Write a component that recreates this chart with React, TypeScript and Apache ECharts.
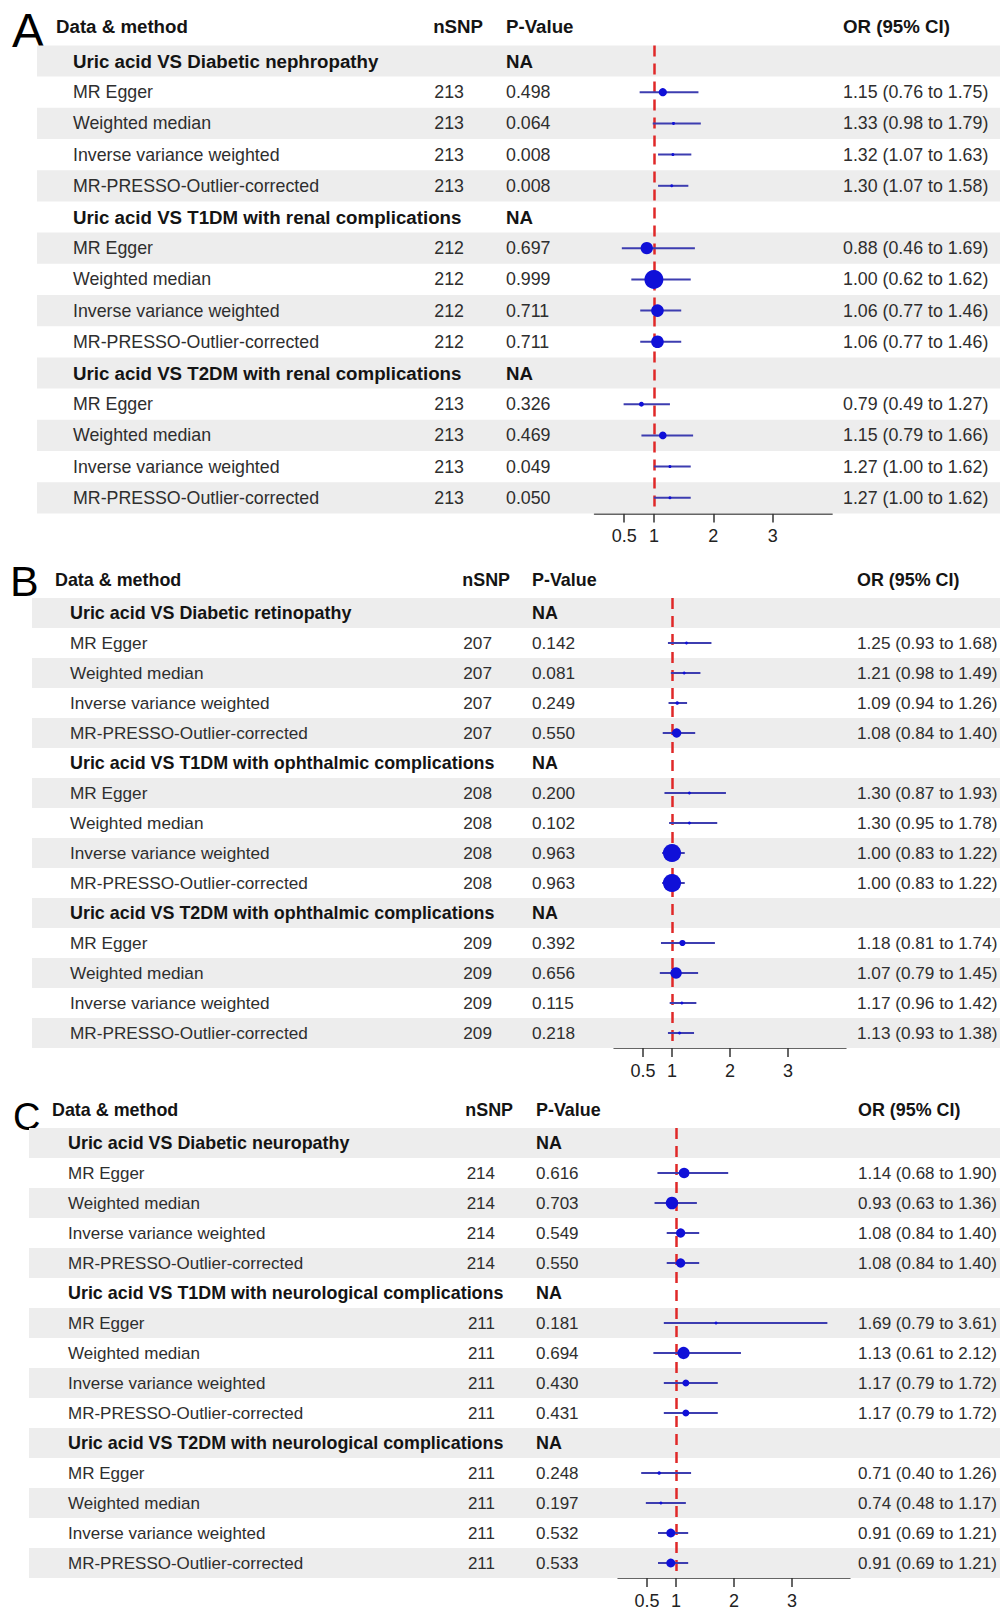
import React, { useEffect, useRef } from "react";
import * as echarts from "echarts";

const FONT = '"Liberation Sans", Arial, Helvetica, sans-serif';

const METHODS = ["MR Egger", "Weighted median", "Inverse variance weighted", "MR-PRESSO-Outlier-corrected"];
const HEADERS = ["Data & method", "nSNP", "P-Value", "OR (95% CI)"];
const TICKS = [0.5, 1, 2, 3];

// Panel A
const groupsA = [
  "Uric acid VS Diabetic nephropathy",
  "Uric acid VS T1DM with renal complications",
  "Uric acid VS T2DM with renal complications",
];
const nsnpA = [213, 212, 213];
const pA = [0.498, 0.064, 0.008, 0.008, 0.697, 0.999, 0.711, 0.711, 0.326, 0.469, 0.049, 0.05];
const orA = [1.15, 1.33, 1.32, 1.3, 0.88, 1.0, 1.06, 1.06, 0.79, 1.15, 1.27, 1.27];
const loA = [0.76, 0.98, 1.07, 1.07, 0.46, 0.62, 0.77, 0.77, 0.49, 0.79, 1.0, 1.0];
const hiA = [1.75, 1.79, 1.63, 1.58, 1.69, 1.62, 1.46, 1.46, 1.27, 1.66, 1.62, 1.62];

// Panel B
const groupsB = [
  "Uric acid VS Diabetic retinopathy",
  "Uric acid VS T1DM with ophthalmic complications",
  "Uric acid VS T2DM with ophthalmic complications",
];
const nsnpB = [207, 208, 209];
const pB = [0.142, 0.081, 0.249, 0.55, 0.2, 0.102, 0.963, 0.963, 0.392, 0.656, 0.115, 0.218];
const orB = [1.25, 1.21, 1.09, 1.08, 1.3, 1.3, 1.0, 1.0, 1.18, 1.07, 1.17, 1.13];
const loB = [0.93, 0.98, 0.94, 0.84, 0.87, 0.95, 0.83, 0.83, 0.81, 0.79, 0.96, 0.93];
const hiB = [1.68, 1.49, 1.26, 1.4, 1.93, 1.78, 1.22, 1.22, 1.74, 1.45, 1.42, 1.38];

// Panel C
const groupsC = [
  "Uric acid VS Diabetic neuropathy",
  "Uric acid VS T1DM with neurological complications",
  "Uric acid VS T2DM with neurological complications",
];
const nsnpC = [214, 211, 211];
const pC = [0.616, 0.703, 0.549, 0.55, 0.181, 0.694, 0.43, 0.431, 0.248, 0.197, 0.532, 0.533];
const orC = [1.14, 0.93, 1.08, 1.08, 1.69, 1.13, 1.17, 1.17, 0.71, 0.74, 0.91, 0.91];
const loC = [0.68, 0.63, 0.84, 0.84, 0.79, 0.61, 0.79, 0.79, 0.4, 0.48, 0.69, 0.69];
const hiC = [1.9, 1.36, 1.4, 1.4, 3.61, 2.12, 1.72, 1.72, 1.26, 1.17, 1.21, 1.21];

type Row = {
  kind: "group" | "method";
  label: string;
  nsnp?: number;
  p?: number;
  or?: number;
  lo?: number;
  hi?: number;
};

function buildRows(groups: string[], nsnp: number[], p: number[], or: number[], lo: number[], hi: number[]): Row[] {
  const rows: Row[] = [];
  groups.forEach((g, gi) => {
    rows.push({ kind: "group", label: g });
    METHODS.forEach((m, mi) => {
      const k = gi * 4 + mi;
      rows.push({ kind: "method", label: m, nsnp: nsnp[gi], p: p[k], or: or[k], lo: lo[k], hi: hi[k] });
    });
  });
  return rows;
}

const PANELS = [
  buildRows(groupsA, nsnpA, pA, orA, loA, hiA),
  buildRows(groupsB, nsnpB, pB, orB, loB, hiB),
  buildRows(groupsC, nsnpC, pC, orC, loC, hiC),
];

// layout (positions / sizes / styles)
const LAYOUTS = [
  { letter: "A", letterX: 12, letterY: 30, letterSize: 48, top: 45.4, rowH: 31.2, hdrGap: 35, axisLeft: 594.5, axisWidth: 237.6, bandLeft: 37, hdrX: 56, nameX: 73, nsnpHdrR: 483, nsnpR: 464, pX: 506, orX: 843, fs: 17.8, bfs: 18.7 },
  { letter: "B", letterX: 10, letterY: 581, letterSize: 43, top: 598, rowH: 30, hdrGap: 33, axisLeft: 614, axisWidth: 232, bandLeft: 32, hdrX: 55, nameX: 70, nsnpHdrR: 510, nsnpR: 492, pX: 532, orX: 857, fs: 17.2, bfs: 17.9 },
  { letter: "C", letterX: 13, letterY: 1117, letterSize: 38, top: 1128, rowH: 30, hdrGap: 33, axisLeft: 618, axisWidth: 232, bandLeft: 29, hdrX: 52, nameX: 68, nsnpHdrR: 513, nsnpR: 495, pX: 536, orX: 858, fs: 17, bfs: 17.9 },
];

const BAND = "#ededed";
const TXT = "#2e2e2e";
const BOLD = "#141414";
const CI = "#3d3db0";
const DOT = "#1010d8";
const RED = "#e02828";

function fmt2(v: number) {
  return v.toFixed(2);
}

function buildOption() {
  const grid: any[] = [];
  const xAxis: any[] = [];
  const yAxis: any[] = [];
  const series: any[] = [];
  const graphic: any[] = [];

  PANELS.forEach((rows, k) => {
    const L = LAYOUTS[k];
    const ids = rows.map((_, i) => String(i));
    const h = L.rowH * rows.length;
    const tg = 2 * k;
    const fg = 2 * k + 1;

    grid.push({ left: 0, width: 1000, top: L.top, height: h });
    grid.push({ left: L.axisLeft, width: L.axisWidth, top: L.top, height: h });

    xAxis.push({ gridIndex: tg, type: "value", min: 0, max: 1000, show: false });
    yAxis.push({ gridIndex: tg, type: "category", inverse: true, data: ids, show: false });

    xAxis.push({
      gridIndex: fg,
      type: "value",
      min: 0,
      max: 4,
      position: "bottom",
      splitLine: { show: false },
      axisLine: { show: true, onZero: false, lineStyle: { color: "#333", width: 1.5 } },
      axisTick: { show: true, customValues: TICKS, length: 9, lineStyle: { color: "#333", width: 1.5 } },
      axisLabel: {
        show: true,
        customValues: TICKS,
        fontSize: 18,
        fontFamily: FONT,
        color: "#222",
        margin: 14,
        formatter: (v: number) => String(v),
      },
    });
    yAxis.push({ gridIndex: fg, type: "category", inverse: true, data: ids, show: false });

    graphic.push({
      type: "text",
      x: L.letterX,
      y: L.letterY,
      style: {
        text: L.letter,
        fontSize: L.letterSize,
        fontFamily: FONT,
        fontWeight: "normal",
        fill: "#000",
        align: "left",
        verticalAlign: "middle",
      },
    });

    // table (bands + texts)
    series.push({
      type: "custom",
      xAxisIndex: tg,
      yAxisIndex: tg,
      z: 1,
      silent: true,
      clip: false,
      encode: { x: 0, y: 1 },
      data: rows.map((_, i) => [0, i]),
      renderItem: (params: any, api: any) => {
        const i = params.dataIndex;
        const r = rows[i];
        const y = api.coord([0, i])[1];
        const rh = api.size([0, 1])[1];
        const children: any[] = [];
        const txt = (x: number, yy: number, text: string, bold: boolean, align = "left") => ({
          type: "text",
          x,
          y: yy,
          style: {
            text,
            fill: bold ? BOLD : TXT,
            fontSize: bold ? L.bfs : L.fs,
            fontFamily: FONT,
            fontWeight: bold ? "bold" : "normal",
            align,
            verticalAlign: "middle",
          },
        });
        if (i % 2 === 0) {
          children.push({
            type: "rect",
            shape: { x: L.bandLeft, y: y - rh / 2, width: 1000 - L.bandLeft, height: rh },
            style: { fill: BAND },
          });
        }
        if (i === 0) {
          const hy = y - L.hdrGap;
          children.push(txt(L.hdrX, hy, HEADERS[0], true));
          children.push(txt(L.nsnpHdrR, hy, HEADERS[1], true, "right"));
          children.push(txt(L.pX, hy, HEADERS[2], true));
          children.push(txt(L.orX, hy, HEADERS[3], true));
        }
        if (r.kind === "group") {
          children.push(txt(L.nameX, y, r.label, true));
          children.push(txt(L.pX, y, "NA", true));
        } else {
          children.push(txt(L.nameX, y, r.label, false));
          children.push(txt(L.nsnpR, y, String(r.nsnp), false, "right"));
          children.push(txt(L.pX, y, (r.p as number).toFixed(3), false));
          children.push(
            txt(L.orX, y, `${fmt2(r.or as number)} (${fmt2(r.lo as number)} to ${fmt2(r.hi as number)})`, false)
          );
        }
        return { type: "group", children };
      },
    });

    // reference line at OR = 1 (drawn beneath the estimates)
    series.push({
      type: "scatter",
      xAxisIndex: fg,
      yAxisIndex: fg,
      z: 2,
      silent: true,
      data: [],
      markLine: {
        z: 2,
        silent: true,
        symbol: ["none", "none"],
        label: { show: false },
        lineStyle: { color: RED, type: [11, 7], width: 2.5 },
        data: [{ xAxis: 1 }],
      },
    });

    const methodIdx = rows.map((r, i) => (r.kind === "method" ? i : -1)).filter((i) => i >= 0);

    // confidence intervals
    series.push({
      type: "custom",
      xAxisIndex: fg,
      yAxisIndex: fg,
      z: 3,
      silent: true,
      clip: false,
      encode: { x: [0, 1], y: 2 },
      data: methodIdx.map((i) => [rows[i].lo, rows[i].hi, i]),
      renderItem: (params: any, api: any) => {
        const a = api.coord([api.value(0), api.value(2)]);
        const b = api.coord([api.value(1), api.value(2)]);
        return {
          type: "line",
          shape: { x1: a[0], y1: a[1], x2: b[0], y2: b[1] },
          style: { stroke: CI, lineWidth: 2 },
        };
      },
    });

    // point estimates
    series.push({
      type: "scatter",
      xAxisIndex: fg,
      yAxisIndex: fg,
      z: 4,
      silent: true,
      symbol: "circle",
      symbolSize: (v: number[]) => Math.max(3, 19 * Math.pow(v[2], 1.2)),
      itemStyle: { color: DOT, opacity: 1 },
      data: methodIdx.map((i) => [rows[i].or, i, rows[i].p]),
    });
  });

  return {
    animation: false,
    backgroundColor: "#ffffff",
    grid,
    xAxis,
    yAxis,
    series,
    graphic,
  };
}

export default function App() {
  const ref = useRef<HTMLDivElement>(null);
  useEffect(() => {
    document.body.style.margin = "0";
    if (!ref.current) return;
    const chart = echarts.init(ref.current, undefined, { renderer: "svg" });
    chart.setOption(buildOption() as any);
    return () => chart.dispose();
  }, []);
  return <div ref={ref} style={{ width: 1000, height: 1610 }} />;
}
